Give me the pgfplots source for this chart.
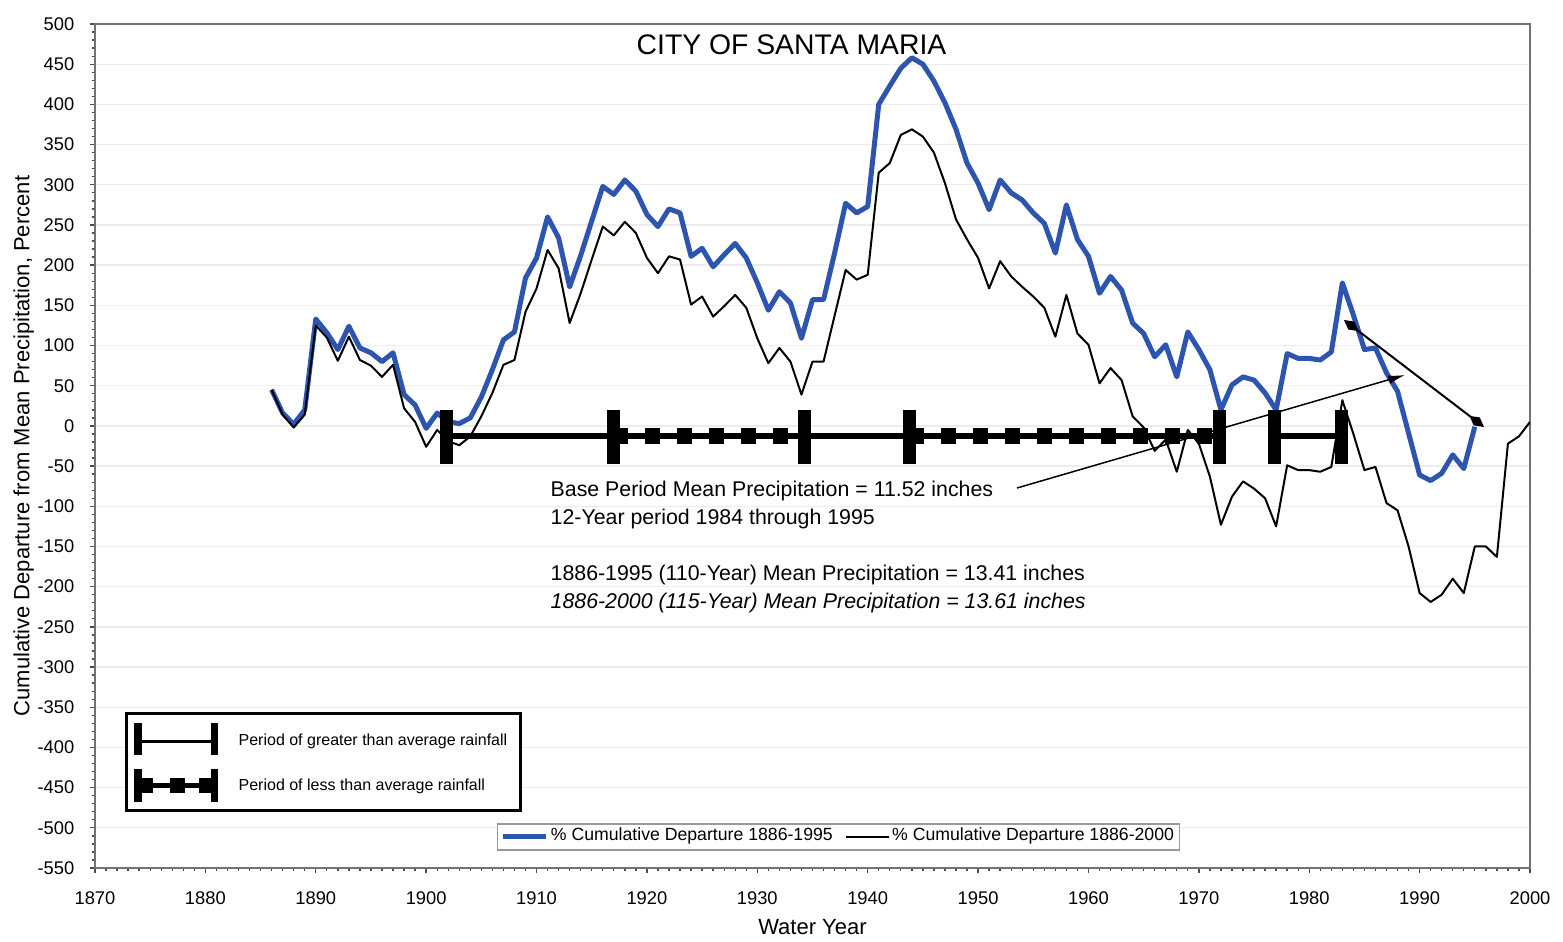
\documentclass[border=0pt]{standalone}
\usepackage{pgfplots}
\usepackage{pgfplotstable}
\pgfplotsset{compat=1.18}
\usepackage{fontspec}
\setmainfont{Liberation Sans}
\usetikzlibrary{arrows.meta}
\definecolor{depblue}{RGB}{45,85,175}

% % cumulative departure, base 1886-1995
\pgfplotstableread{
year dep
1886 45
1887 16
1888 2
1889 20
1890 133
1891 116
1892 95
1893 124
1894 97
1895 91
1896 80
1897 91
1898 39
1899 26
1900 -3
1901 16
1902 5
1903 3
1904 10
1905 36
1906 70
1907 107
1908 117
1909 184
1910 209
1911 260
1912 234
1913 173
1914 212
1915 255
1916 298
1917 288
1918 306
1919 292
1920 263
1921 248
1922 270
1923 265
1924 211
1925 221
1926 198
1927 213
1928 227
1929 209
1930 178
1931 144
1932 167
1933 153
1934 109
1935 157
1936 157
1937 215
1938 277
1939 265
1940 273
1941 400
1942 423
1943 445
1944 458
1945 450
1946 429
1947 402
1948 369
1949 327
1950 302
1951 269
1952 306
1953 290
1954 281
1955 265
1956 252
1957 215
1958 275
1959 232
1960 211
1961 165
1962 186
1963 169
1964 128
1965 115
1966 86
1967 101
1968 61
1969 117
1970 95
1971 70
1972 20
1973 51
1974 61
1975 57
1976 41
1977 20
1978 90
1979 84
1980 84
1981 82
1982 92
1983 178
1984 138
1985 95
1986 97
1987 66
1988 43
1989 -9
1990 -61
1991 -68
1992 -59
1993 -36
1994 -53
1995 -1
}\basedata

% % cumulative departure, base 1886-2000
\pgfplotstableread{
year dep
1886 45
1887 14
1888 -2
1889 14
1890 125
1891 110
1892 81
1893 111
1894 82
1895 75
1896 61
1897 76
1898 22
1899 5
1900 -26
1901 -5
1902 -19
1903 -24
1904 -13
1905 12
1906 41
1907 76
1908 82
1909 142
1910 171
1911 219
1912 196
1913 128
1914 165
1915 207
1916 248
1917 237
1918 254
1919 240
1920 209
1921 190
1922 211
1923 207
1924 151
1925 161
1926 136
1927 149
1928 163
1929 147
1930 109
1931 78
1932 97
1933 80
1934 39
1935 80
1936 80
1937 137
1938 194
1939 182
1940 188
1941 315
1942 327
1943 362
1944 369
1945 360
1946 340
1947 302
1948 257
1949 232
1950 209
1951 171
1952 205
1953 186
1954 173
1955 161
1956 147
1957 111
1958 163
1959 115
1960 101
1961 53
1962 72
1963 57
1964 12
1965 -2
1966 -31
1967 -17
1968 -57
1969 -5
1970 -22
1971 -63
1972 -123
1973 -88
1974 -69
1975 -78
1976 -90
1977 -125
1978 -49
1979 -55
1980 -55
1981 -57
1982 -51
1983 32
1984 -10
1985 -55
1986 -51
1987 -96
1988 -105
1989 -150
1990 -208
1991 -219
1992 -210
1993 -190
1994 -208
1995 -150
1996 -150
1997 -163
1998 -22
1999 -13
2000 5
}\longdata

\begin{document}
\begin{tikzpicture}
\begin{axis}[
    scale only axis,
    width=430.5pt, height=253.2pt,
    xmin=1870, xmax=2000,
    ymin=-550, ymax=500,
    xtick distance=10, ytick distance=50,
    minor x tick num=9, minor y tick num=4,
    xtick pos=bottom, ytick pos=left,
    tick align=outside,
    major tick length=1.5pt, minor tick length=0.9pt,
    tick style={black!70, thin},
    axis line style={black!55},
    ymajorgrids, grid style={black!7, thin},
    /pgf/number format/assume math mode=true,
    /pgf/number format/set thousands separator={},
    tick label style={font=\fontsize{5.5}{6}\selectfont},
    xticklabel style={yshift=-2.1pt},
    yticklabel style={xshift=-1.2pt},
    xlabel={Water Year},
    ylabel={Cumulative Departure from Mean Precipitation, Percent},
    label style={font=\fontsize{6.6}{7}\selectfont},
    xlabel shift=-2.6pt,
    ylabel shift=-5.8pt,
    legend style={at={(0.518,0.0368)}, anchor=center, legend columns=2,
        draw=black!40, fill=white, font=\fontsize{5.3}{6}\selectfont,
        inner xsep=1pt, inner ysep=0.6pt, row sep=0pt,
        nodes={inner sep=0.6pt},
        /tikz/every even column/.append style={column sep=3pt}},
    legend image code/.code={\draw[#1] (0pt,0pt) -- (13pt,0pt);},
]
\addplot[depblue, line width=1.5pt, line join=round] table[x=year, y=dep] {\basedata};
\addlegendentry{\% Cumulative Departure 1886-1995}
\addplot[black, line width=0.6pt, line join=round] table[x=year, y=dep] {\longdata};
\addlegendentry{\% Cumulative Departure 1886-2000}

% periods of greater / less than average rainfall
\addplot[forget plot, black, line width=1.8pt] coordinates {(1901.8,-12.8) (1971.87,-12.8)};
\addplot[forget plot, black, line width=1.8pt] coordinates {(1976.88,-12.8) (1982.95,-12.8)};
\addplot[forget plot, black, line width=4.8pt, dash pattern=on 4.5pt off 5.1pt] coordinates {(1916.95,-12.8) (1934.24,-12.8)};
\addplot[forget plot, black, line width=4.8pt, dash pattern=on 4.5pt off 5.1pt] coordinates {(1943.76,-12.8) (1971.87,-12.8)};
\addplot[forget plot, black, line width=3.9pt] coordinates {(1901.8,20) (1901.8,-47)};
\addplot[forget plot, black, line width=3.9pt] coordinates {(1916.95,20) (1916.95,-47)};
\addplot[forget plot, black, line width=3.9pt] coordinates {(1934.24,20) (1934.24,-47)};
\addplot[forget plot, black, line width=3.9pt] coordinates {(1943.76,20) (1943.76,-47)};
\addplot[forget plot, black, line width=3.9pt] coordinates {(1971.87,20) (1971.87,-47)};
\addplot[forget plot, black, line width=3.9pt] coordinates {(1976.88,20) (1976.88,-47)};
\addplot[forget plot, black, line width=3.9pt] coordinates {(1982.95,20) (1982.95,-47)};
\end{axis}

% annotations, in pixel units of the 1563x941 layout
\begin{scope}[shift={(current axis.south west)}, xshift=-28.5pt, yshift=260.4pt, x=0.3pt, y=-0.3pt]
\pgfresetboundingbox
\useasboundingbox (0,0) rectangle (1563,941);

\node[anchor=base west, inner sep=0, font=\fontsize{8.5}{9}\selectfont] at (636,55) {CITY OF SANTA MARIA};

\begin{scope}[font=\fontsize{6.4}{7}\selectfont]
\node[anchor=base west, inner sep=0] at (550,496) {Base Period Mean Precipitation = 11.52 inches};
\node[anchor=base west, inner sep=0] at (550,524) {12-Year period 1984 through 1995};
\node[anchor=base west, inner sep=0] at (550,580) {1886-1995 (110-Year) Mean Precipitation = 13.41 inches};
\node[anchor=base west, inner sep=0] at (550,608) {\itshape 1886-2000 (115-Year) Mean Precipitation = 13.61 inches};
\end{scope}

\draw[black, line width=0.45pt, -{Latex[length=5pt, width=2.6pt]}] (1017,488) -- (1405,375);
\draw[black, line width=0.6pt, {Diamond[length=5.5pt, width=3pt]}-{Diamond[length=5.5pt, width=3pt]}] (1344,320) -- (1484,427);

% legend for the period bars
\draw[black, line width=0.9pt, fill=white] (126,713) rectangle (520,810);
\draw[black, line width=1pt] (141,741.5) -- (211,741.5);
\fill[black] (134.3,723) rectangle (141.7,755);
\fill[black] (211,723) rectangle (218.3,755);
\draw[black, line width=1.5pt] (141,785.5) -- (211,785.5);
\fill[black] (134.3,769) rectangle (141.7,801.7);
\fill[black] (211,769) rectangle (218.3,801.7);
\fill[black] (141.7,778) rectangle (153.3,793);
\fill[black] (170,778) rectangle (185,793);
\fill[black] (199,778) rectangle (211,793);
\begin{scope}[font=\fontsize{4.8}{5}\selectfont]
\node[anchor=base west, inner sep=0] at (238,745.7) {Period of greater than average rainfall};
\node[anchor=base west, inner sep=0] at (238,790) {Period of less than average rainfall};
\end{scope}
\end{scope}
\end{tikzpicture}
\end{document}
